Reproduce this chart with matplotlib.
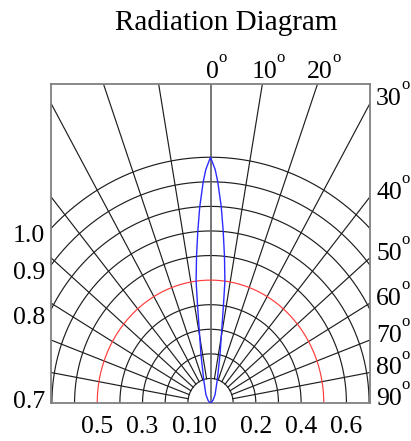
import numpy as np
import matplotlib.pyplot as plt

plt.rcParams['font.family'] = 'Liberation Serif'

title = "Radiation Diagram"

# relative intensity rings (0.5 is the half-power ring, drawn red)
rings = [0.1, 0.2, 0.3, 0.4, 0.5, 0.6, 0.7, 0.8, 0.9, 1.0]
half_power = 0.5
spoke_angles = [-80, -70, -60, -50, -40, -30, -20, -10, 10, 20, 30, 40, 50, 60, 70, 80]

# measured beam: angle off axis (deg) vs relative intensity
beam_angle = [0, 1.25, 2.05, 3.4, 4.6, 5.9, 7.3, 8.2, 9.5, 12.1, 17.5, 31, 45, 60, 90]
beam_intensity = [1.0, 0.95, 0.9, 0.8, 0.7, 0.6, 0.5, 0.4, 0.3, 0.2, 0.1, 0.039, 0.015, 0.005, 0.0]

top_angles = [0, 10, 20]
right_angles = [30, 40, 50, 60, 70, 80, 90]
left_values = [1.0, 0.9, 0.8, 0.7]
bottom_values = [-0.5, -0.3, -0.1, 0.0, 0.2, 0.4, 0.6]
bottom_labels = ["0.5", "0.3", "0.1", "0", "0.2", "0.4", "0.6"]

XMAX = 0.704
YMAX = 1.3

fig = plt.figure(figsize=(4.11, 4.41), dpi=100)
ax = fig.add_axes([51 / 411, 38 / 441, 319 / 411, 319.5 / 441])
ax.set_xlim(-XMAX, XMAX)
ax.set_ylim(0, YMAX)
ax.set_xticks([])
ax.set_yticks([])
for s in ax.spines.values():
    s.set_color('#808080')
    s.set_linewidth(1.3)

# rings
t = np.radians(np.linspace(-90, 90, 361))
for r in rings:
    col = '#ff3b3b' if r == half_power else '#1e1e1e'
    ax.plot(r * np.sin(t), r * np.cos(t), color=col, lw=0.85, zorder=2 if r == half_power else 1)

# spokes, starting at the innermost ring
for a in spoke_angles:
    th = np.radians(a)
    ax.plot([rings[0] * np.sin(th), 3 * np.sin(th)], [rings[0] * np.cos(th), 3 * np.cos(th)],
            color='#1e1e1e', lw=0.85, zorder=1)
ax.plot([0, 0], [0, 3], color='#606060', lw=1.2, zorder=1)

# beam pattern, mirrored
ang = np.radians(np.array(beam_angle))
inten = np.array(beam_intensity)
ang_full = np.concatenate([-ang[::-1], ang[1:]])
int_full = np.concatenate([inten[::-1], inten[1:]])
ax.plot(int_full * np.sin(ang_full), int_full * np.cos(ang_full), color='#2b2bff', lw=1.0, zorder=3)

fig.text(226 / 411, 1 - 30 / 441, title, ha='center', va='baseline', fontsize=21)

lab_size = 18.5
deg_size = 12
em = lab_size * 100 / 72  # pixels


def angle_label(a, xy, dx, dy, ha):
    # number plus a raised small "o" as degree sign
    s = str(a)
    w = len(s) * 0.5 * em
    ax.annotate(s, xy=xy, xytext=(dx, dy), textcoords='offset pixels',
                ha=ha, va='baseline', fontsize=lab_size, annotation_clip=False)
    right = dx + (w / 2 if ha == 'center' else w)
    ax.annotate('o', xy=xy, xytext=(right - 0.5, dy + 0.62 * em), textcoords='offset pixels',
                ha='left', va='baseline', fontsize=deg_size, annotation_clip=False)


for a in top_angles:
    x = YMAX * np.tan(np.radians(a))
    angle_label(a, (x, YMAX), 2, 5.5, 'center')

for a in right_angles:
    y = XMAX / np.tan(np.radians(a)) if a < 90 else 0.0
    angle_label(a, (XMAX, min(y, YMAX)), 6, -2, 'left')

# left intensity labels where rings meet the left edge
for v in left_values:
    y = np.sqrt(max(v ** 2 - XMAX ** 2, 0))
    off = -14 if y > 0.05 else -4.5
    ax.annotate('%.1f' % v, xy=(-XMAX, y), xytext=(-6, off),
                textcoords='offset pixels', ha='right', va='baseline',
                fontsize=lab_size, annotation_clip=False)

# bottom intensity labels
for v, lab in zip(bottom_values, bottom_labels):
    ax.annotate(lab, xy=(v, 0), xytext=(0, -30), textcoords='offset pixels',
                ha='center', va='baseline', fontsize=lab_size, annotation_clip=False)

fig.savefig('out.png', dpi=100)
